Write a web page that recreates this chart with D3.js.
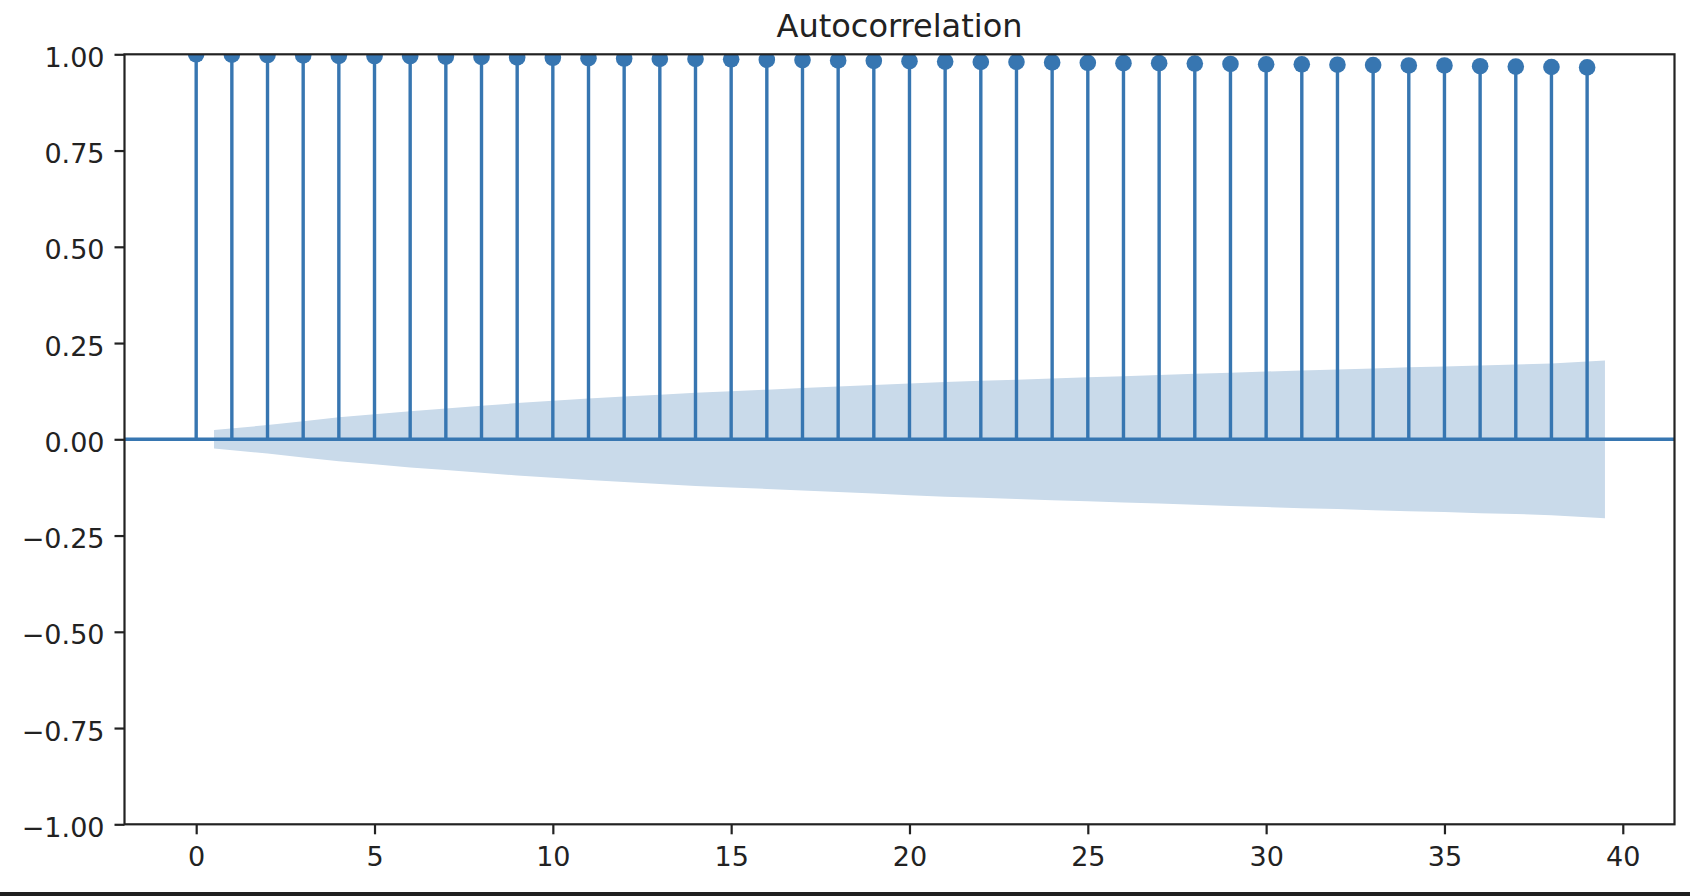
<!DOCTYPE html>
<meta charset="utf-8">
<script src="https://d3js.org/d3.v7.min.js"></script>
<style>
  body { margin: 0; background: #fff; }
  text { font-family: "DejaVu Sans", sans-serif; fill: #222; }
</style>
<div id="my_dataviz"></div>

<script>

// lags and autocorrelation values
var lags = [0,1,2,3,4,5,6,7,8,9,10,11,12,13,14,15,16,17,18,19,
            20,21,22,23,24,25,26,27,28,29,30,31,32,33,34,35,36,37,38,39];
var acf = [1.000,0.999,0.998,0.997,0.996,0.995,0.995,0.994,0.993,0.992,
           0.991,0.990,0.989,0.988,0.988,0.987,0.986,0.985,0.984,0.983,
           0.982,0.981,0.980,0.980,0.979,0.978,0.977,0.977,0.976,0.975,
           0.974,0.974,0.973,0.972,0.971,0.971,0.969,0.968,0.967,0.966];
// half width of the confidence band, lags 1..39
var bandLags = [1,2,3,4,5,6,7,8,9,10,11,12,13,14,15,16,17,18,19,20,
                21,22,23,24,25,26,27,28,29,30,31,32,33,34,35,36,37,38,39];
var bandHalf = [0.024,0.037,0.047,0.057,0.065,0.073,0.080,0.087,0.094,0.100,
                0.106,0.111,0.116,0.121,0.125,0.129,0.133,0.137,0.141,0.145,
                0.149,0.152,0.155,0.158,0.161,0.164,0.167,0.170,0.173,0.176,
                0.179,0.181,0.184,0.187,0.189,0.192,0.194,0.197,0.205];
var xTicks = [0,5,10,15,20,25,30,35,40];
var yTicks = [-1,-0.75,-0.5,-0.25,0,0.25,0.5,0.75,1];
var title = "Autocorrelation";

var blue = "#3776b1";

// axes box in page pixels
var margin = {top: 54.3, right: 15.5, bottom: 71.7, left: 124.5},
    W = 1690, H = 896,
    width = W - margin.left - margin.right,
    height = H - margin.top - margin.bottom;

var svg = d3.select("#my_dataviz")
  .append("svg")
    .attr("width", W)
    .attr("height", H);

// dark strip along the bottom of the screenshot
svg.append("rect")
  .attr("x", 0).attr("y", 892).attr("width", W).attr("height", 4)
  .attr("fill", "#1f1f1f");

var g = svg.append("g")
  .attr("transform", "translate(" + margin.left + "," + margin.top + ")");

g.append("clipPath").attr("id", "clip")
  .append("rect").attr("width", width).attr("height", height);

var x = d3.scaleLinear().domain([-2.01, 41.45]).range([0, width]);
var y = d3.scaleLinear().domain([-1, 1]).range([height, 0]);

var plot = g.append("g").attr("clip-path", "url(#clip)");

// confidence band (first and last lag pushed out by half a step)
var band = bandLags.map(function(l, i) {
  var bx = l;
  if (i == 0) bx = l - 0.5;
  if (i == bandLags.length - 1) bx = l + 0.5;
  return {x: bx, h: bandHalf[i]};
});
plot.append("path")
  .datum(band)
  .attr("fill", "#c9daea")
  .attr("d", d3.area()
    .x(function(d) { return x(d.x); })
    .y0(function(d) { return y(-d.h); })
    .y1(function(d) { return y(d.h); }));

// stems
plot.selectAll("line.stem")
  .data(lags)
  .enter()
  .append("line")
    .attr("class", "stem")
    .attr("x1", function(d) { return x(d); })
    .attr("x2", function(d) { return x(d); })
    .attr("y1", y(0))
    .attr("y2", function(d, i) { return y(acf[i]); })
    .attr("stroke", blue)
    .attr("stroke-width", 3.4);

// zero line
plot.append("line")
  .attr("x1", 0).attr("x2", width)
  .attr("y1", y(0)).attr("y2", y(0))
  .attr("stroke", blue)
  .attr("stroke-width", 3.4);

// markers
plot.selectAll("circle")
  .data(lags)
  .enter()
  .append("circle")
    .attr("cx", function(d) { return x(d); })
    .attr("cy", function(d, i) { return y(acf[i]); })
    .attr("r", 8.3)
    .attr("fill", blue);

// axes
var fmt = function(d) { return d3.format(".2f")(d).replace("-", "\u2212"); };

var yAxis = g.append("g")
  .call(d3.axisLeft(y).tickValues(yTicks).tickFormat(fmt).tickSize(10).tickPadding(10));
yAxis.selectAll("text").attr("dy", "0.45em");

var xAxis = g.append("g")
  .attr("transform", "translate(0," + height + ")")
  .call(d3.axisBottom(x).tickValues(xTicks).tickFormat(d3.format("d")).tickSize(10).tickPadding(13));

g.selectAll(".domain").remove();
g.selectAll(".tick line").attr("stroke", "#222").attr("stroke-width", 2.2);
g.selectAll(".tick text")
  .style("font-family", "'DejaVu Sans', sans-serif")
  .style("font-size", "27px")
  .attr("fill", "#222");

// frame
g.append("rect")
  .attr("width", width).attr("height", height)
  .attr("fill", "none")
  .attr("stroke", "#222")
  .attr("stroke-width", 2.2);

svg.append("text")
  .attr("x", margin.left + width / 2)
  .attr("y", 36.7)
  .attr("text-anchor", "middle")
  .style("font-size", "32px")
  .text(title);

</script>
